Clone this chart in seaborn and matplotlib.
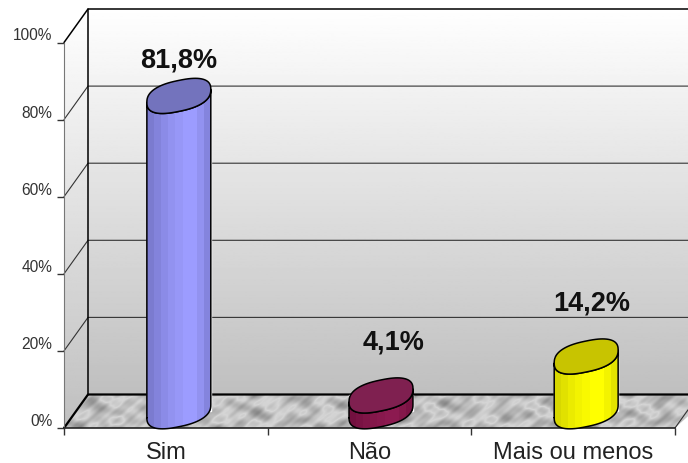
import numpy as np
import pandas as pd
import matplotlib.pyplot as plt
import seaborn as sns
from matplotlib.colors import to_rgb
from matplotlib.path import Path
from matplotlib.patches import PathPatch, Polygon
from matplotlib.transforms import ScaledTranslation

categories = ["Sim", "Não", "Mais ou menos"]
values = [81.8, 4.1, 14.2]
value_labels = ["81,8%", "4,1%", "14,2%"]
y_ticks = [0, 20, 40, 60, 80, 100]

side_colors = ["#7b7bcf", "#73103f", "#d8d800"]
mid_colors = ["#9c9cff", "#8c1a50", "#ffff00"]
top_colors = ["#7373bd", "#7f2050", "#c8c400"]

W, H = 688, 464
DX, DY = 24, 33.5  # depth of the fake 3d box in pixels

sns.set_style("white")
plt.rcParams["font.family"] = ["Liberation Sans", "DejaVu Sans"]

df = pd.DataFrame({"cat": categories, "val": values})

fig = plt.figure(figsize=(W / 100, H / 100), dpi=100)
bg = fig.add_axes([0, 0, 1, 1], zorder=0)
bg.set_xlim(0, W)
bg.set_ylim(H, 0)
bg.axis("off")
bg.set_autoscale_on(False)

ax = fig.add_axes([64 / W, 1 - 429 / H, (675 - 64) / W, (429 - 43.5) / H], zorder=1)
ax.patch.set_alpha(0)
ov = fig.add_axes([0, 0, 1, 1], zorder=2)
ov.set_xlim(0, W)
ov.set_ylim(H, 0)
ov.axis("off")
ov.set_autoscale_on(False)

sns.barplot(df, x="cat", y="val", hue="cat", palette=side_colors, width=0.314, legend=False, ax=ax)
ax.set_xlim(-0.5, 2.5)
ax.set_ylim(0, 100)
ax.set_xlabel("")
ax.set_ylabel("")
ax.set_yticks(y_ticks)
# tick labels sit a bit above their ticks in the reference
ax.set_yticklabels([f"{t}%" for t in y_ticks], fontsize=11.2, color="#333333", va="bottom")
ax.set_xticks(range(len(categories)))
ax.set_xticklabels(categories, fontsize=17, color="#222222")
ax.set_xticks([-0.5, 0.5, 1.5, 2.5], minor=True)
ax.tick_params(axis="x", which="major", length=0, pad=9.5)
ax.tick_params(axis="x", which="minor", length=5, width=1, color="#333333", bottom=True)
ax.tick_params(axis="y", length=5, width=1, color="#333333", left=True, pad=3.3)
for s in ["top", "right"]:
    ax.spines[s].set_visible(False)
ax.spines["left"].set_color("#777777")
ax.spines["left"].set_linewidth(0.8)
ax.spines["bottom"].set_color("#222222")
ax.spines["bottom"].set_linewidth(1.2)


def to_px(x, y):
    px, py = ax.transData.transform((x, y))
    return px, H - py


x0, y0 = to_px(-0.5, 0)
x1, y100 = to_px(2.5, 100)

# walls with the vertical gradient
grad = np.linspace(1, 0.75, 256).reshape(-1, 1)
back = bg.imshow(grad, extent=[x0 + DX, W, y0 - DY, y100 - DY], cmap="gray", vmin=0, vmax=1, aspect="auto", zorder=1)
left_pts = [(x0, y100), (x0 + DX, y100 - DY), (x0 + DX, y0 - DY), (x0, y0)]
left = bg.imshow(grad, extent=[x0, x0 + DX, y0, y100 - DY], cmap="gray", vmin=0, vmax=1, aspect="auto", zorder=1)
left.set_clip_path(Polygon(left_pts, transform=bg.transData))

# floor texture, plain sine mix so it is reproducible
yy, xx = np.mgrid[0:34, 0:W + DX]
uu = xx + yy * 0.7
wave = (np.sin(uu * 0.11 + np.sin(yy * 0.23) * 1.5) + 0.8 * np.sin(uu * 0.047 - yy * 0.31)
        + 0.7 * np.sin(uu * 0.29 + yy * 0.17) + 0.25 * np.sin(uu * 0.71 + yy * 0.41)
        + 1.1 * np.sin(xx * 0.023 + yy * 0.13) * np.sin(uu * 0.19 - yy * 0.37))
tex = np.clip(0.76 + 0.07 * wave - 0.12 * np.clip(wave - 1.1, 0, None), 0.35, 0.93)
floor = bg.imshow(tex, extent=[x0, W + DX, y0, y0 - DY], cmap="gray", vmin=0, vmax=1, aspect="auto", zorder=1.5)
floor_pts = [(x0, y0), (x0 + DX, y0 - DY), (W + DX, y0 - DY), (x1, y0)]
floor.set_clip_path(Polygon(floor_pts, transform=bg.transData))

# gridlines on back and left wall
for t in y_ticks[1:]:
    gx, gy = to_px(-0.5, t)
    c = "black" if t == 100 else "#333333"
    bg.plot([gx, gx + DX, W], [gy, gy - DY, gy - DY], color=c, lw=1.1 if t == 100 else 0.8, zorder=2)
bg.plot([x0 + DX, x0 + DX], [y100 - DY, y0 - DY], color="black", lw=1.1, zorder=2)
bg.plot([x0, x0 + DX, W], [y0, y0 - DY, y0 - DY], color="black", lw=1.6, zorder=2)
bg.plot([x1, W], [y0, y0 - (W - x1) * DY / DX], color="#333333", lw=0.8, zorder=2)

# cylinders built on the bars from seaborn
t_low = np.linspace(np.pi, 2 * np.pi, 40)
t_all = np.linspace(0, 2 * np.pi, 80)
bar_shift = [13, 11.5, 13]
for i, bar in enumerate(ax.patches):
    shift = ScaledTranslation(bar_shift[i] / 100, DY / 2 / 100, fig.dpi_scale_trans)
    bar.set_transform(ax.transData + shift)
    xa, ya = to_px(bar.get_x(), 0)
    xb, yb = to_px(bar.get_x() + bar.get_width(), bar.get_height())
    cx = (xa + xb) / 2 + bar_shift[i]
    base_y, top_y = ya - DY / 2, yb - DY / 2
    a = (xb - xa) / 2

    def ring(t, cy):
        # slightly squared off slanted ellipse
        c = np.sign(np.cos(t)) * np.abs(np.cos(t)) ** 0.8
        s = np.sign(np.sin(t)) * np.abs(np.sin(t)) ** 0.8
        return np.column_stack([cx + a * c, cy - 6.5 * c - 15.5 * s])

    low = ring(t_low, base_y)
    up = ring(t_low[::-1], top_y)
    body = np.vstack([low, up, low[:1]])
    path = Path(body)

    mix = np.array([0, 0.25, 0.5, 0.7, 0.85, 1, 1, 0.7, 0.3])[None, :, None]
    c0 = np.array(to_rgb(side_colors[i]))
    c1 = np.array(to_rgb(mid_colors[i]))
    strip = c0 + (c1 - c0) * mix
    im = ov.imshow(strip, extent=[cx - a, cx + a, base_y + 20, top_y - 20], aspect="auto", interpolation="nearest", zorder=3)
    im.set_clip_path(PathPatch(path, transform=ov.transData))
    ov.plot(body[:, 0], body[:, 1], color="black", lw=1.1, zorder=4)
    ov.add_patch(Polygon(ring(t_all, top_y), facecolor=top_colors[i], edgecolor="black", lw=1.1, zorder=5))

label_dx = [13, 24, 19]
label_dy = [53, 71, 71]
for i, txt in enumerate(value_labels):
    lx, ly = to_px(i, values[i])
    ov.text(lx + label_dx[i], ly - label_dy[i], txt, ha="center", va="center", fontsize=19.5, fontweight="bold", color="#111111", zorder=6)

fig.savefig("out.png", dpi=100)
